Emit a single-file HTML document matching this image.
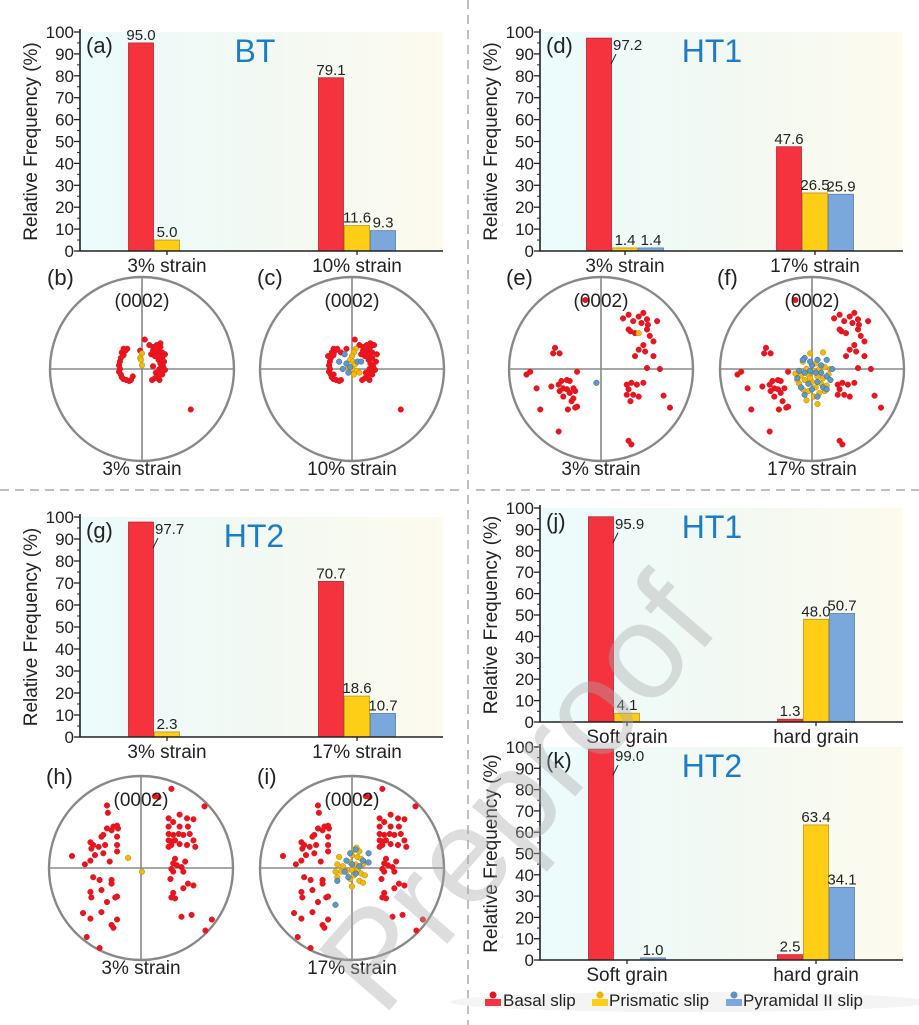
<!DOCTYPE html>
<html><head><meta charset="utf-8"><style>
html,body{margin:0;padding:0;background:#fff;}
svg{display:block;font-family:"Liberation Sans",Arial,sans-serif;}
</style></head><body>
<svg id="fig" width="919" height="1025" viewBox="0 0 919 1025" xmlns="http://www.w3.org/2000/svg">
<defs>
<linearGradient id="bg" x1="0" x2="1" y1="0" y2="0">
<stop offset="0" stop-color="#ecfbfc"/><stop offset="0.5" stop-color="#f2f9f3"/><stop offset="1" stop-color="#fdfaee"/>
</linearGradient>
</defs>
<g id="dividers">
<line x1="468" y1="0" x2="468" y2="1025" stroke="#aaa" stroke-width="1.5" stroke-dasharray="9,6"/>
<line x1="0" y1="490" x2="460" y2="490" stroke="#aaa" stroke-width="1.5" stroke-dasharray="9,6"/>
<line x1="476" y1="490" x2="919" y2="490" stroke="#aaa" stroke-width="1.5" stroke-dasharray="9,6"/>
</g>
<g id="charts"></g>
<g id="poles"></g>
<g id="legend">
<ellipse cx="690" cy="1002" rx="240" ry="10" fill="#f4f4f4"/>
<g>
<rect x="485" y="999" width="16" height="7" fill="#f5333f"/><circle cx="493" cy="995" r="3.5" fill="#e8151e"/>
<text x="503" y="1006" font-size="17" fill="#222">Basal slip</text></g>
<g>
<rect x="592" y="999" width="16" height="7" fill="#fecd16"/><circle cx="600" cy="995" r="3.5" fill="#f0b400"/>
<text x="609" y="1006" font-size="17" fill="#222">Prismatic slip</text></g>
<g>
<rect x="726" y="999" width="16" height="7" fill="#7aa8dc"/><circle cx="734" cy="995" r="3.5" fill="#5b93c8"/>
<text x="743" y="1006" font-size="17" fill="#222">Pyramidal II slip</text></g>
</g>
<text x="0" y="0" font-size="135" fill="rgba(170,170,170,0.4)" transform="translate(525,800) rotate(-49)" text-anchor="middle" dominant-baseline="middle">Preproof</text>
</svg>
<script>
// ---- bar chart data ----
const aCats = ["3% strain", "10% strain"];
const aBasal = [95.0, 79.1];
const aPrism = [5.0, 11.6];
const aPyr = [null, 9.3];

const dCats = ["3% strain", "17% strain"];
const dBasal = [97.2, 47.6];
const dPrism = [1.4, 26.5];
const dPyr = [1.4, 25.9];

const gCats = ["3% strain", "17% strain"];
const gBasal = [97.7, 70.7];
const gPrism = [2.3, 18.6];
const gPyr = [null, 10.7];

const jCats = ["Soft grain", "hard grain"];
const jBasal = [95.9, 1.3];
const jPrism = [4.1, 48.0];
const jPyr = [null, 50.7];

const kCats = ["Soft grain", "hard grain"];
const kBasal = [99.0, 2.5];
const kPrism = [null, 63.4];
const kPyr = [1.0, 34.1];

const yTicks = [0,10,20,30,40,50,60,70,80,90,100];

// ---- pole figure data (percent of pole-figure radius) ----
const bBasal = [[-22,-18],[-20,-15],[-23,-12],[-24,-8],[-25,-4],[-24,0],[-25,3],[-23,6],[-22,9],[-20,11],[-17,12],[-14,13],[-12,12],[-18,-20],[-16,-22],[-20,-22],[-10,8],[3,-32],[-2,-20],[8,-26],[12,-24],[16,-26],[20,-24],[18,-21],[12,-20],[15,-18],[22,-18],[25,-16],[19,-15],[14,-14],[10,-16],[22,-12],[18,-10],[24,-8],[20,-6],[23,-3],[19,0],[25,1],[21,3],[15,4],[22,6],[18,8],[14,10],[19,12],[11,12],[17,-20],[12,-3],[20,-28],[53,44]];
const bPrism = [[0,-17],[-2,-12],[-1,-10],[0,-4]];
const bPyr = [];
const cBasal = [[-22,-18],[-20,-15],[-23,-12],[-24,-8],[-25,-4],[-24,0],[-25,3],[-23,6],[-22,9],[-20,11],[-17,12],[-14,13],[-12,12],[-18,-20],[-16,-22],[-20,-22],[-12,-18],[3,-32],[-6,-22],[8,-26],[12,-24],[16,-26],[20,-24],[18,-21],[12,-20],[15,-18],[22,-18],[27,-16],[19,-15],[14,-14],[10,-16],[22,-12],[18,-10],[26,-8],[20,-6],[23,-3],[19,0],[25,1],[21,3],[15,4],[22,6],[18,8],[14,10],[19,12],[11,12],[17,-20],[24,-26],[20,-28],[-26,-14],[-20,6],[53,44]];
const cPrism = [[4,-22],[2,-18],[0,-14],[-2,-10],[1,-8],[3,-5],[-4,-2],[0,0],[5,2],[8,4],[2,6]];
const cPyr = [[-8,-16],[-14,-8],[-6,-6],[6,-8],[10,-8],[-10,0],[-4,4],[-2,-2]];
const eBasal = [[-17,-75],[24,-55],[30,-59],[35,-52],[41,-57],[46,-61],[50,-54],[44,-50],[51,-48],[32,-41],[37,-39],[30,-43],[61,-52],[50,-43],[53,-36],[57,-30],[46,-26],[41,-21],[48,-19],[37,-14],[57,-14],[50,-1],[64,0],[-50,-23],[-52,-17],[-45,-17],[-77,3],[-81,6],[-26,3],[-43,13],[-37,12],[-34,13],[-54,19],[-46,17],[-41,21],[-30,21],[-45,24],[-37,22],[-34,26],[-28,24],[-70,21],[-41,30],[-30,32],[-32,35],[-26,41],[-28,42],[-66,44],[-36,44],[-46,68],[28,17],[33,15],[39,17],[46,15],[30,22],[28,28],[35,28],[41,30],[32,35],[68,29],[75,42],[30,78],[33,82]];
const ePrism = [[41,-39]];
const ePyr = [[-5,15]];
const fBasal = [[-18,-75],[24,-55],[30,-59],[35,-52],[41,-57],[46,-61],[50,-54],[44,-50],[51,-48],[32,-41],[37,-39],[30,-43],[61,-52],[50,-43],[53,-36],[57,-30],[46,-26],[41,-21],[48,-19],[37,-14],[57,-14],[50,-1],[64,0],[-50,-23],[-52,-17],[-45,-17],[-77,3],[-81,6],[-26,3],[-43,13],[-37,12],[-34,13],[-54,19],[-46,17],[-41,21],[-30,21],[-45,24],[-37,22],[-34,26],[-70,21],[-41,30],[-32,35],[-26,41],[-28,42],[-66,44],[-36,44],[-46,68],[28,17],[33,15],[39,17],[46,15],[30,22],[28,28],[35,28],[41,30],[68,29],[75,42],[30,78],[33,82]];
const fPrism = [[-2,-17],[12,-18],[-10,-8],[4,-6],[-6,0],[2,2],[8,0],[14,-2],[20,0],[-18,5],[-12,7],[-4,6],[6,8],[12,10],[-8,12],[0,14],[10,16],[-14,16],[4,20],[16,18],[-4,24],[8,26],[-10,22],[2,30],[-6,34],[6,38],[18,6],[-16,12],[-2,10],[14,24]];
const fPyr = [[-8,-12],[-10,-10],[0,-4],[6,-10],[16,-10],[22,0],[-14,2],[-8,4],[4,4],[10,4],[16,8],[-2,2],[20,12],[-16,10],[-4,16],[6,14],[12,20],[-12,20],[0,22],[16,22],[-8,28],[6,30],[10,-4],[-2,-8]];
const hBasal = [[-37,-68],[-36,-60],[-26,-46],[-30,-45],[-32,-41],[-37,-43],[-25,-43],[-41,-36],[-43,-34],[-26,-34],[-55,-28],[-52,-25],[-39,-25],[-54,-21],[-46,-23],[-26,-25],[-26,-18],[-50,-14],[-41,-16],[-75,-13],[-55,-8],[-34,-7],[-61,-4],[-52,10],[-45,13],[-32,13],[-32,17],[-55,26],[-43,24],[-54,32],[-28,32],[-26,31],[-37,37],[-43,48],[-63,49],[-55,55],[-32,62],[-30,65],[-26,56],[-59,75],[-45,87],[15,-78],[19,-77],[33,-86],[69,-67],[42,-58],[30,-54],[50,-54],[57,-53],[35,-50],[30,-45],[42,-45],[51,-45],[30,-37],[35,-36],[41,-37],[46,-36],[53,-37],[30,-30],[33,-29],[37,-30],[42,-26],[50,-25],[57,-30],[33,-25],[30,-23],[59,-23],[37,-10],[35,-5],[48,-7],[39,-3],[33,1],[35,4],[44,-1],[46,4],[32,12],[51,17],[57,19],[46,22],[35,27],[33,32],[37,33],[55,51],[44,53],[77,56],[70,68]];
const hPrism = [[-14,-11],[1,4]];
const hPyr = [];
const iBasal = hBasal.slice(0);
const iPrism = [[2,-20],[5,-22],[8,-18],[0,-14],[6,-12],[10,-10],[-14,-12],[-2,-6],[4,-4],[12,-4],[-16,-4],[-10,-2],[0,2],[6,2],[-18,4],[-12,4],[-6,4],[10,6],[14,8],[2,8],[-2,12],[8,14],[12,16],[0,20],[-16,10]];
const iPyr = [[4,-20],[-2,-16],[12,-8],[18,-16],[18,-6],[-6,-8],[0,-4],[8,-2],[-8,4],[4,6],[-16,14],[-4,10],[-18,40]];

const NS = "http://www.w3.org/2000/svg";
function mk(tag, attrs, parent){
  const e = document.createElementNS(NS, tag);
  for (const k in attrs) e.setAttribute(k, attrs[k]);
  parent.appendChild(e);
  return e;
}
const COLORS = ["#f5333f","#fecd16","#7aa8dc"];
const STROKES = ["#b8232c","#b89410","#5a7ea6"];
const SERIES = ["basal","prismatic","pyramidal"];

function barChart(cfg){
  const root = document.getElementById("charts");
  const g = mk("g", {}, root);
  
  
  const yScale = v => cfg.y0 - (v/100)*(cfg.y0 - cfg.y100);
  const bg = mk("rect", {x:cfg.left, y:cfg.y100, width:cfg.right-cfg.left, height:cfg.y0-cfg.y100, fill:"url(#bg)"}, g);
  
  
  const off = [-26, 0, 26], bw = 25;
  const series = [cfg.basal, cfg.prism, cfg.pyr];
  for (let s=0; s<3; s++){
    for (let c=0; c<cfg.cats.length; c++){
      const v = series[s][c];
      if (v === null || v === undefined) continue;
      const cx = cfg.ticks[c] + off[s];
      const r = mk("rect", {x:cx-bw/2, y:yScale(v), width:bw, height:cfg.y0-yScale(v), fill:COLORS[s], stroke:STROKES[s], "stroke-width":0.8}, g);
      
      
      const big = v > 95 && s === 0;
      const t = mk("text", {x: big ? cx+14 : cx, y: big ? yScale(v)+12 : yScale(v)-3, "font-size":15, fill:"#222", "text-anchor": big ? "start" : "middle"}, g);
      t.textContent = v.toFixed(1);
      
      
      if (big){
        const a = mk("path", {d:`M${cx+17} ${yScale(v)+16} L${cx+12} ${yScale(v)+26}`, stroke:"#222", "stroke-width":1, fill:"none"}, g);
        
        
      }
    }
  }
  const ax = mk("path", {d:`M${cfg.left} ${cfg.y100-3} L${cfg.left} ${cfg.y0} L${cfg.right} ${cfg.y0}`, stroke:"#222", "stroke-width":1.6, fill:"none"}, g);
  
  
  for (let i=0; i<yTicks.length; i++){
    const y = yScale(yTicks[i]);
    mk("line", {x1:cfg.left-6, x2:cfg.left, y1:y, y2:y, stroke:"#222", "stroke-width":1.3}, g);
    if (i < yTicks.length-1){
      const ym = yScale(yTicks[i]+5);
      mk("line", {x1:cfg.left-3, x2:cfg.left, y1:ym, y2:ym, stroke:"#222", "stroke-width":1}, g);
    }
    const t = mk("text", {x:cfg.left-6, y:y+6, "font-size":17, fill:"#222", "text-anchor":"end"}, g);
    t.textContent = yTicks[i];
    
    
  }
  for (let c=0; c<cfg.cats.length; c++){
    mk("line", {x1:cfg.ticks[c], x2:cfg.ticks[c], y1:cfg.y0, y2:cfg.y0+4, stroke:"#222", "stroke-width":1.3}, g);
    const t = mk("text", {x:cfg.ticks[c], y:cfg.y0+21, "font-size":19, fill:"#222", "text-anchor":"middle"}, g);
    t.textContent = cfg.cats[c];
    
    
  }
  const yt = mk("text", {x:0, y:0, "font-size":19, fill:"#222", "text-anchor":"middle", transform:`translate(${cfg.left-43},${(cfg.y0+cfg.y100)/2}) rotate(-90)`}, g);
  yt.textContent = "Relative Frequency (%)";
  
  
  const pl = mk("text", {x:cfg.left+6, y:cfg.y100+21, "font-size":22, fill:"#222"}, g);
  pl.textContent = "(" + cfg.id + ")";
  
  
  const tt = mk("text", {x:cfg.titleX, y:cfg.y100+30, "font-size":32, fill:"#1b7cc9", "text-anchor":"middle"}, g);
  tt.textContent = cfg.title;
  
  
}

barChart({id:"a", title:"BT", titleX:255, cats:aCats, basal:aBasal, prism:aPrism, pyr:aPyr, left:80, right:443, y0:251, y100:32, ticks:[167,357]});
barChart({id:"d", title:"HT1", titleX:712, cats:dCats, basal:dBasal, prism:dPrism, pyr:dPyr, left:540, right:903, y0:251, y100:32, ticks:[625,815]});
barChart({id:"g", title:"HT2", titleX:254, cats:gCats, basal:gBasal, prism:gPrism, pyr:gPyr, left:80, right:443, y0:737, y100:517, ticks:[167,357]});
barChart({id:"j", title:"HT1", titleX:712, cats:jCats, basal:jBasal, prism:jPrism, pyr:jPyr, left:540, right:903, y0:722, y100:508, ticks:[627,816]});
barChart({id:"k", title:"HT2", titleX:712, cats:kCats, basal:kBasal, prism:kPrism, pyr:kPyr, left:540, right:903, y0:960, y100:747, ticks:[627,816]});

function pole(cfg){
  const root = document.getElementById("poles");
  const g = mk("g", {}, root);
  
  
  const R = 92;
  const px = v => cfg.cx + v/100*R;
  const py = v => cfg.cy + v/100*R;
  mk("line", {x1:cfg.cx-R, x2:cfg.cx+R, y1:cfg.cy, y2:cfg.cy, stroke:"#888", "stroke-width":1.6}, g);
  mk("line", {x1:cfg.cx, x2:cfg.cx, y1:cfg.cy-R, y2:cfg.cy+R, stroke:"#888", "stroke-width":1.6}, g);
  const c = mk("circle", {cx:cfg.cx, cy:cfg.cy, r:R, fill:"none", stroke:"#888", "stroke-width":2.4}, g);
  
  
  const sets = [[cfg.basal,"#e8151e","#e8151e"],[cfg.prism,"#f7b800","#a88a20"],[cfg.pyr,"#5b99cc","#40607f"]];
  sets.forEach((st, si) => {
    st[0].forEach(p => {
      const d = mk("circle", {cx:px(p[0]), cy:py(p[1]), r:2.8, fill:st[1], stroke:st[2], "stroke-width":0.5}, g);
      
      
    });
  });
  const t1 = mk("text", {x:cfg.cx, y:cfg.cy-R+30, "font-size":19, fill:"#222", "text-anchor":"middle"}, g);
  t1.textContent = "(0002)";
  
  
  const t2 = mk("text", {x:cfg.cx, y:cfg.cy+R+14, "font-size":19, fill:"#222", "text-anchor":"middle"}, g);
  t2.textContent = cfg.label;
  
  
  const t3 = mk("text", {x:cfg.cx-95, y:cfg.cy-R+8, "font-size":22, fill:"#222"}, g);
  t3.textContent = "(" + cfg.id + ")";
  
  
}
pole({id:"b", cx:142, cy:369, label:"3% strain", basal:bBasal, prism:bPrism, pyr:bPyr});
pole({id:"c", cx:352, cy:369, label:"10% strain", basal:cBasal, prism:cPrism, pyr:cPyr});
pole({id:"e", cx:601, cy:369, label:"3% strain", basal:eBasal, prism:ePrism, pyr:ePyr});
pole({id:"f", cx:812, cy:369, label:"17% strain", basal:fBasal, prism:fPrism, pyr:fPyr});
pole({id:"h", cx:141, cy:868, label:"3% strain", basal:hBasal, prism:hPrism, pyr:hPyr});
pole({id:"i", cx:352, cy:868, label:"17% strain", basal:iBasal, prism:iPrism, pyr:iPyr});
</script>
</body></html>
